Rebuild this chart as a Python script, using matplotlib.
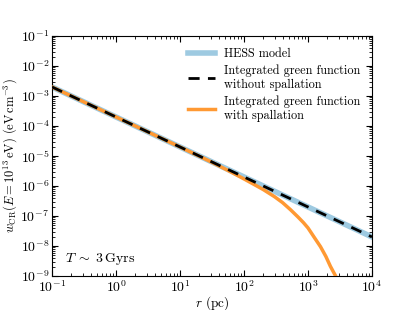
import matplotlib.pyplot as plt
import numpy as np

plt.rcParams['font.family'] = 'serif'
plt.rcParams['font.serif'] = ['cmr10', 'DejaVu Serif']
plt.rcParams['mathtext.fontset'] = 'cm'
plt.rcParams['axes.formatter.use_mathtext'] = True

# data
r_hess = [0.1, 1.0, 10.0, 100.0, 1000.0, 10000.0]
w_hess = [2.0e-3, 2.0e-4, 2.0e-5, 2.0e-6, 2.0e-7, 2.0e-8]

r_nospall = [0.1, 1.0, 10.0, 100.0, 1000.0, 10000.0]
w_nospall = [2.0e-3, 2.0e-4, 2.0e-5, 2.0e-6, 2.0e-7, 2.0e-8]

r_spall = [0.1, 1.0, 10.0, 30.0, 60.0, 100.0, 150.0, 200.0, 300.0, 400.0,
           533.0, 700.0, 850.0, 1000.0, 1250.0, 1567.0, 1900.0, 2240.0,
           2700.0, 3000.0]
w_spall = [2.0e-3, 2.0e-4, 2.0e-5, 6.5e-6, 3.07e-6, 1.72e-6, 1.07e-6, 7.6e-7,
           4.4e-7, 2.8e-7, 1.62e-7, 9.2e-8, 6.0e-8, 4.0e-8, 1.95e-8, 9.5e-9,
           4.5e-9, 2.1e-9, 1.0e-9, 6e-10]

fig = plt.figure(figsize=(4.13, 3.10), dpi=100)
ax = fig.add_axes([52/413, 1 - 276/310, 320/413, 240/310])

ax.plot(r_hess, w_hess, color='#9ecae1', lw=4, label='HESS model', zorder=2)
ax.plot(r_nospall, w_nospall, color='black', lw=2, ls=(0, (4, 3)),
        label='Integrated green function\nwithout spallation', zorder=4)
ax.plot(r_spall, w_spall, color='#ff9933', lw=2.5,
        label='Integrated green function\nwith spallation', zorder=3)

ax.set_xscale('log')
ax.set_yscale('log')
ax.set_xlim(1e-1, 1e4)
ax.set_ylim(1e-9, 1e-1)

ax.tick_params(which='both', direction='in', top=True, right=True, labelsize=10)
ax.tick_params(which='major', length=4, pad=2)
ax.tick_params(which='minor', length=2)

ax.set_xlabel(r'$r$ (pc)', fontsize=9.5, labelpad=0)
ax.set_ylabel(r'$w_{\rm CR}(E=10^{13}\,{\rm eV})$ (${\rm eV\,cm^{-3}}$)',
              fontsize=9, labelpad=1)

ax.text(0.04, 0.07, r'$T\;\sim\;3\,{\rm Gyrs}$', transform=ax.transAxes,
        fontsize=10, ha='left', va='center')

ax.legend(loc='upper right', frameon=False, fontsize=8.8, handlelength=2.2,
          handletextpad=0.7, labelspacing=0.35, borderaxespad=0.6)

fig.savefig('out.png', dpi=100)
